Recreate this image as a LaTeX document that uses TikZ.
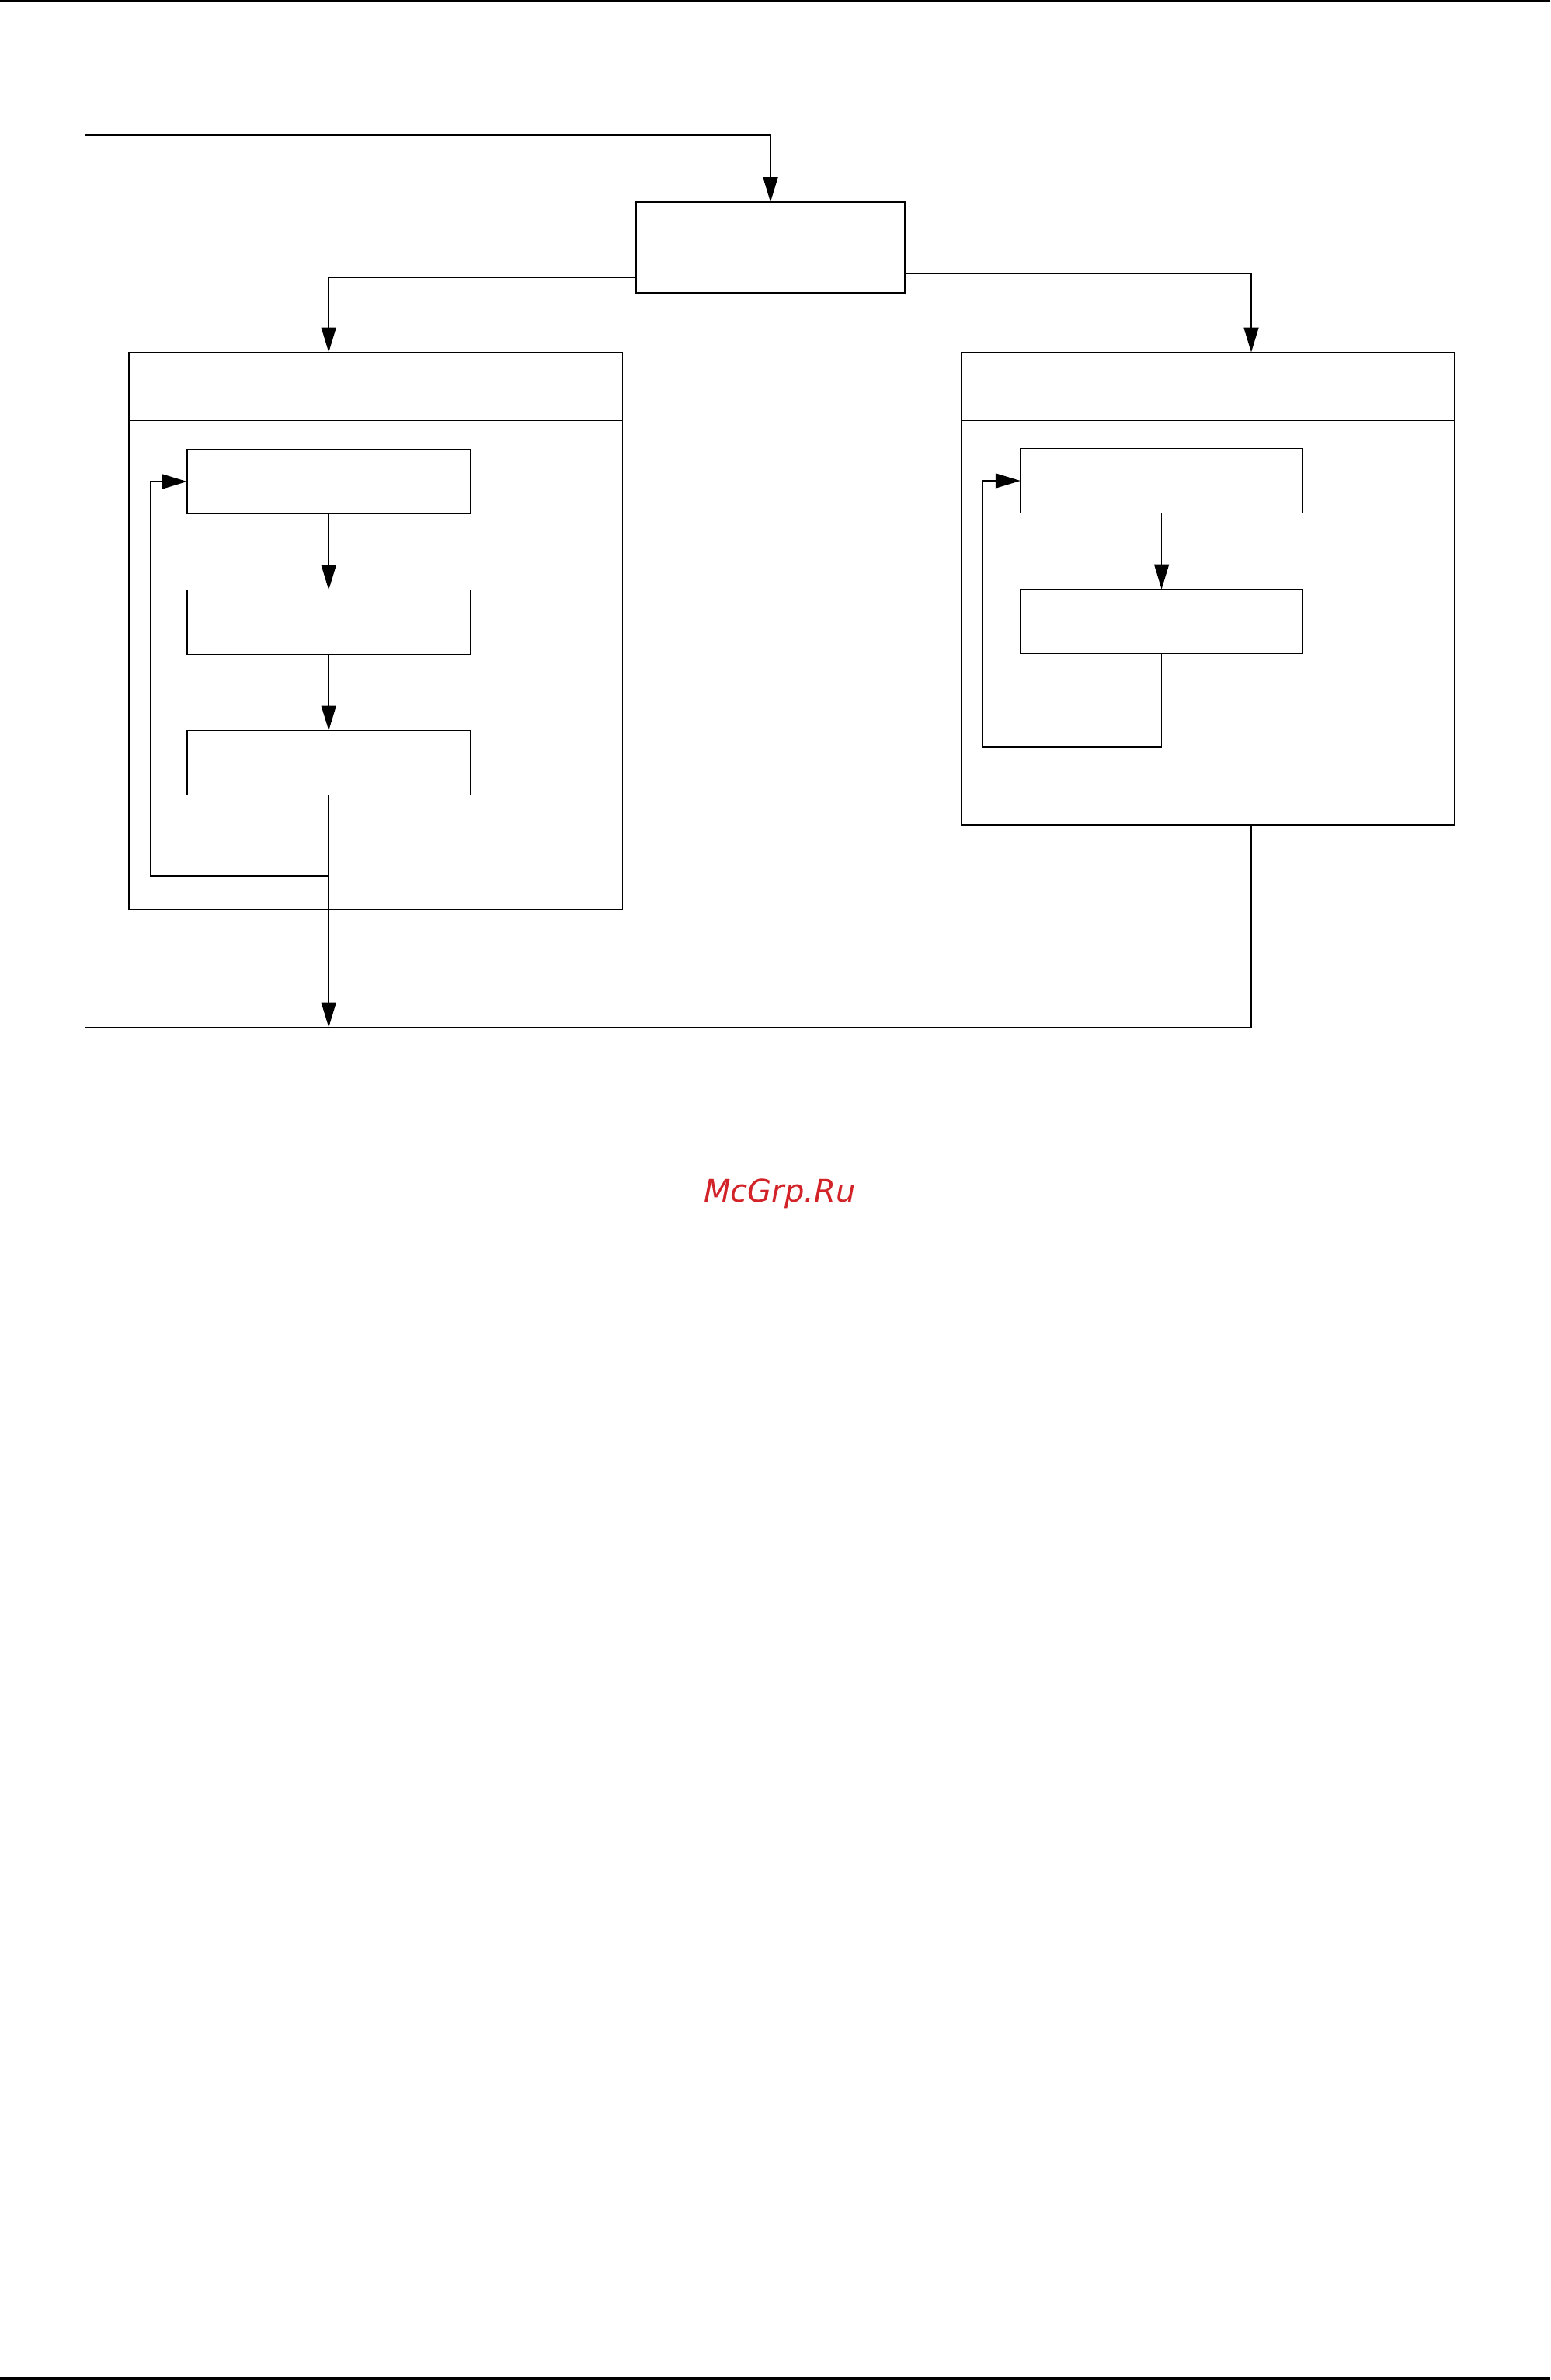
\documentclass[tikz,border=0pt]{standalone}
\usepackage{fontspec}
\usepackage{xcolor}
\usetikzlibrary{positioning,calc,arrows.meta}
\newfontfamily\markfont{DejaVu Sans}
\definecolor{markred}{RGB}{210,35,40}

\begin{document}
\begin{tikzpicture}[line width=0.5pt, node distance=0.98cm,
    block/.style={draw, rectangle, inner sep=0pt, outer sep=0pt, minimum width=3.65cm, minimum height=0.83cm},
    frame/.style={draw, rectangle, inner sep=0pt, outer sep=0pt, minimum width=6.355cm},
    arr/.style={-{Triangle[length=3.2mm, width=1.9mm]}}]
    \useasboundingbox (0,0) rectangle (19.96,-30.64);
    % page rules
    \fill (0,0) rectangle (19.96,-0.03);
    \fill (0,-30.60) rectangle (19.96,-30.64);

    \node [draw, inner sep=0pt, outer sep=0pt, minimum width=3.46cm, minimum height=1.17cm] (Top) at (9.92,-3.185) {};
    \node [frame, minimum height=7.175cm] (LF) at (4.8375,-8.1225) {};
    \node [frame, minimum height=6.081cm] (RF) at (15.5525,-7.5755) {};
    \draw ($(LF.north west)+(0,-0.88)$) -- ($(LF.north east)+(0,-0.88)$);
    \draw ($(RF.north west)+(0,-0.88)$) -- ($(RF.north east)+(0,-0.88)$);

    \node [block] (L1) at (4.2325,-6.20) {};
    \node [block, below=of L1] (L2) {};
    \node [block, below=of L2] (L3) {};
    \node [block, minimum width=3.636cm] (R1) at (14.956,-6.19) {};
    \node [block, minimum width=3.636cm, below=of R1] (R2) {};

    \coordinate (RX) at (16.11,0);
    \coordinate (BL) at (1.095,-13.225);
    \coordinate (TL) at (1.095,-1.74);
    \coordinate (LB) at (1.935,-11.28);
    \coordinate (RB) at (12.65,-9.62);

    \draw [arr] ([yshift=-3.9mm]Top.west) -| (L1.north |- LF.north);
    \draw [arr] ([yshift=-3.35mm]Top.east) -| (RX |- RF.north);
    \draw [arr] (L1) -- (L2);
    \draw [arr] (L2) -- (L3);
    \draw [arr] (L3.south) |- (LB) |- (L1.west);
    \draw [arr] (L3.south) -- (L3.south |- BL);
    \draw [arr] (R1) -- (R2);
    \draw [arr] (R2.south) |- (RB) |- (R1.west);
    \draw [arr] (RX |- RF.south) |- (BL) -- (TL) -| (Top.north);

    \node [anchor=base, text=markred, font=\markfont\itshape\fontsize{11.4}{13}\selectfont] (Mark) at (10.04,-15.47) {McGrp.Ru};
\end{tikzpicture}
\end{document}
